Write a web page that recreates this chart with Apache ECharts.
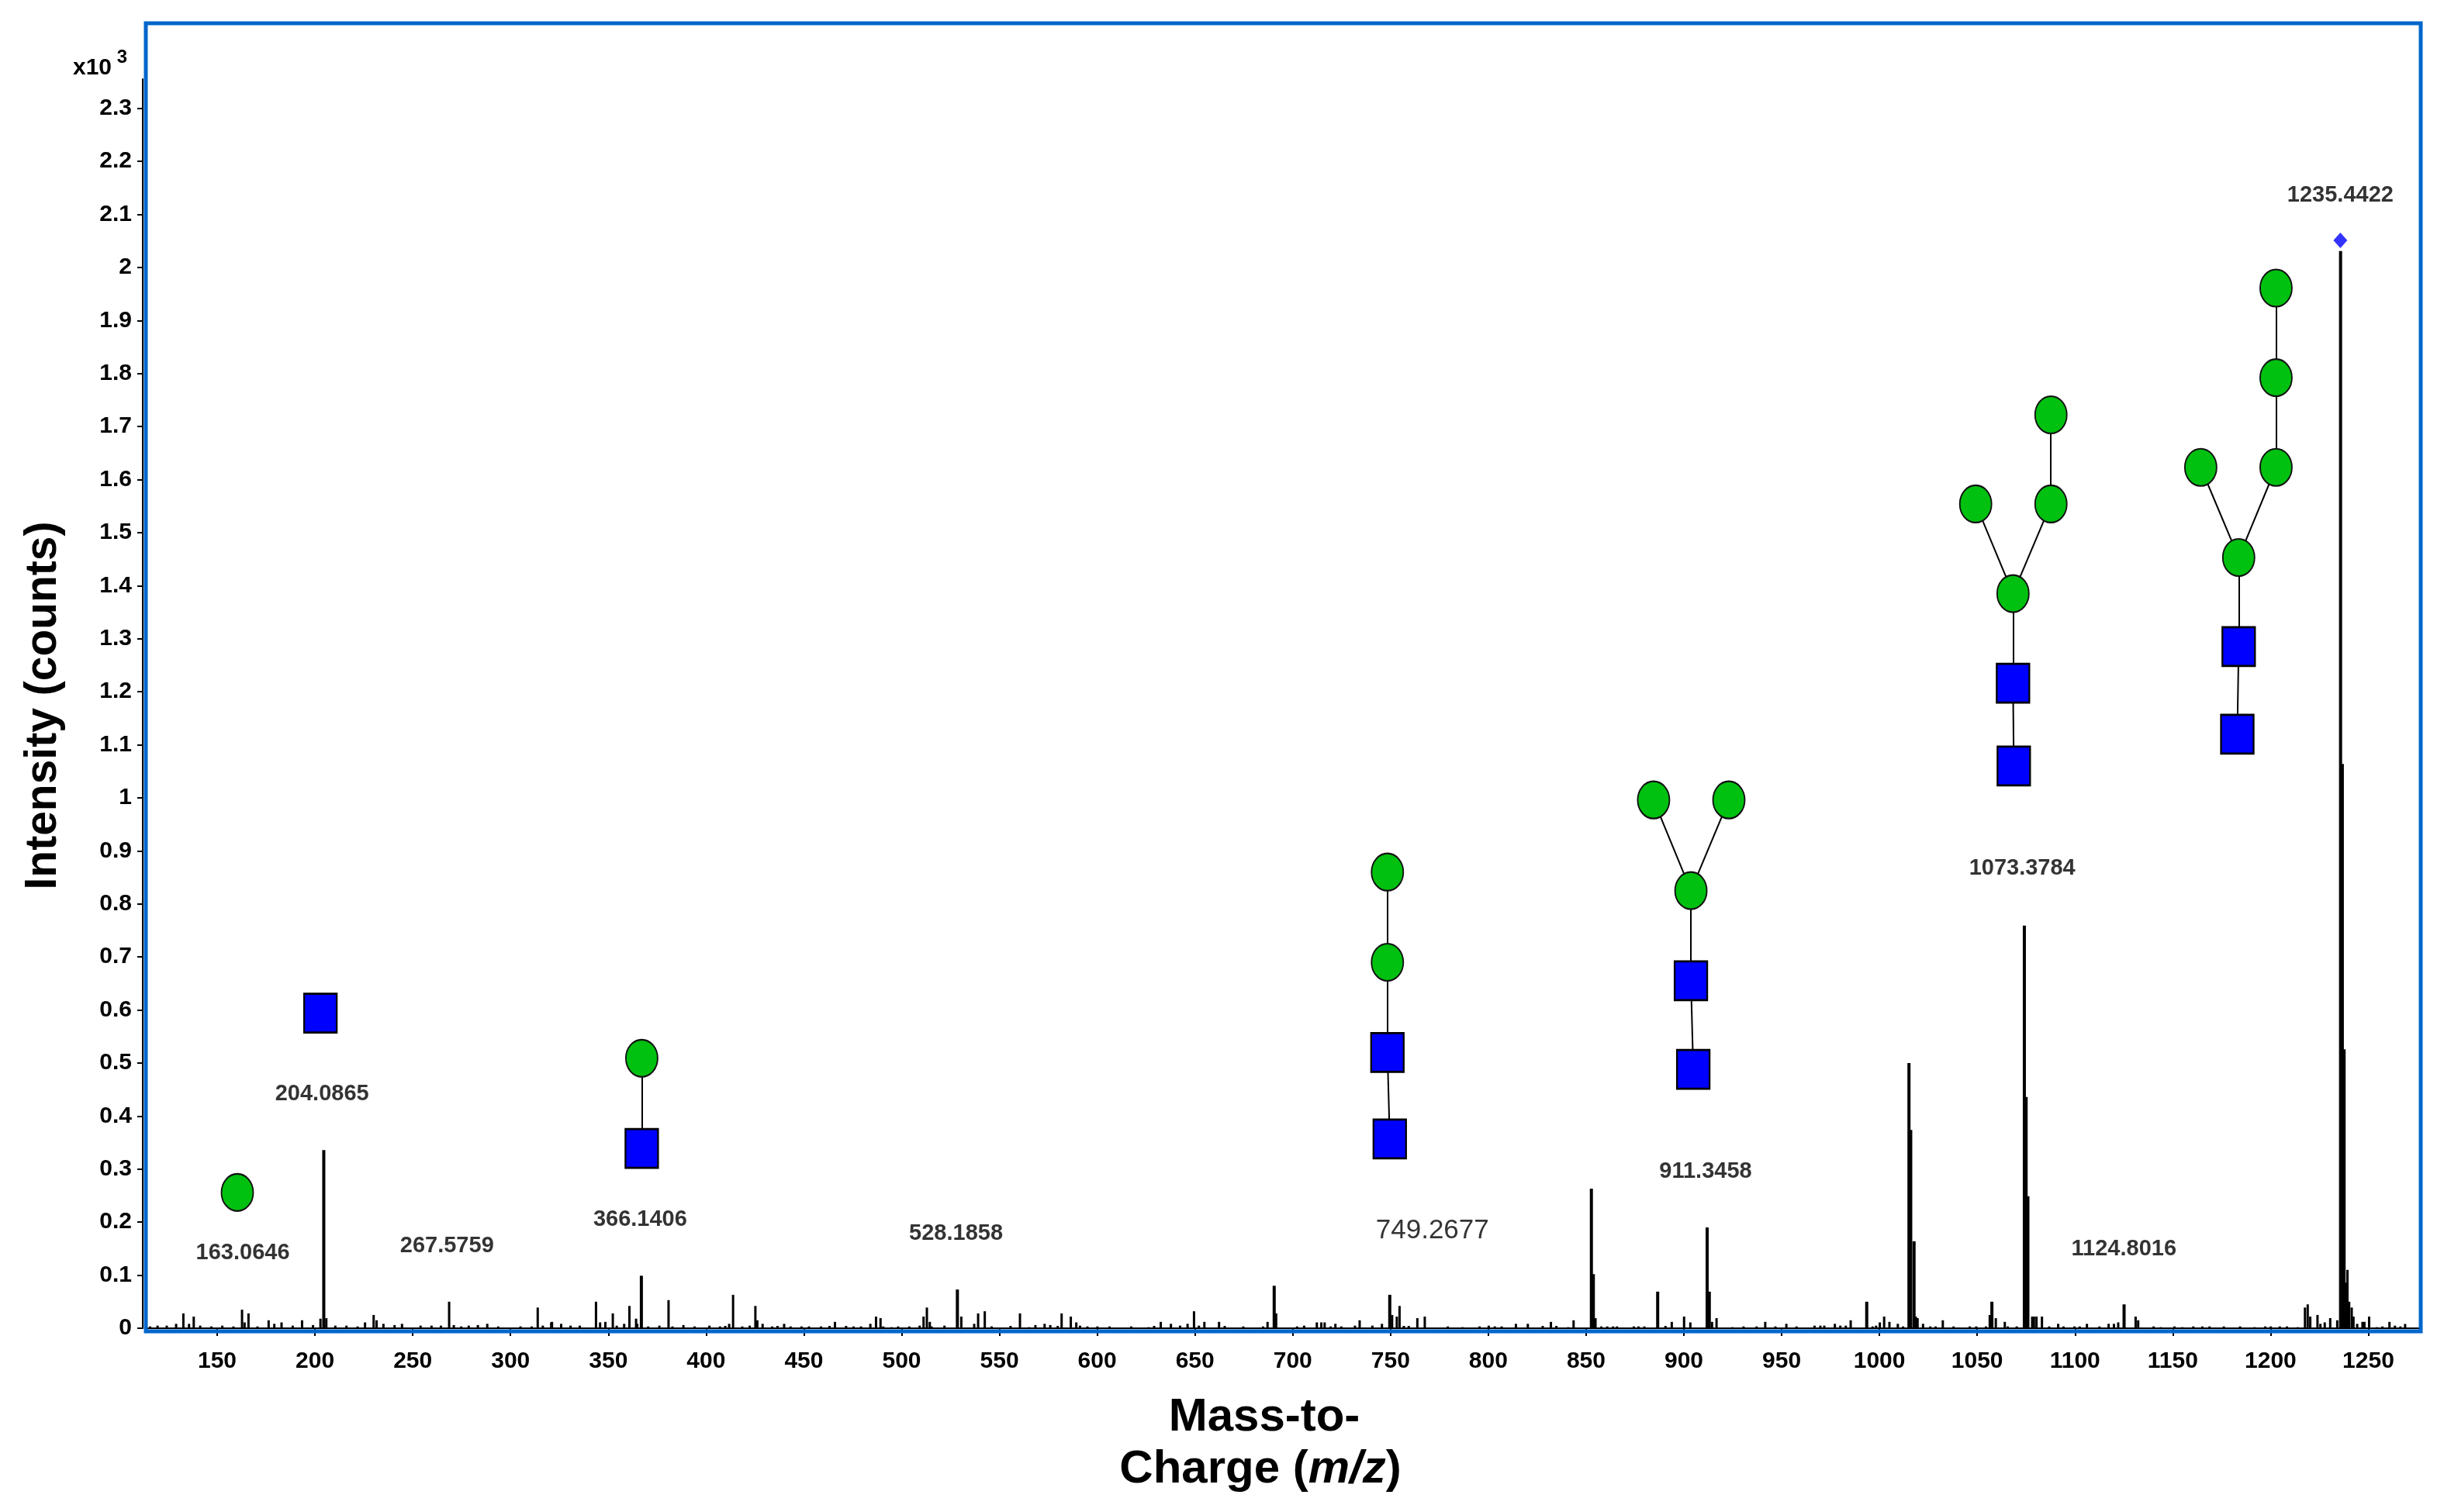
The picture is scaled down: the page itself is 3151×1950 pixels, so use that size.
<!DOCTYPE html>
<html>
<head>
<meta charset="utf-8">
<script src="https://cdn.jsdelivr.net/npm/echarts@6/dist/echarts.min.js"></script>
<style>
html, body { margin: 0; padding: 0; background: #fff; }
#main { width: 3151px; height: 1950px; }
</style>
</head>
<body>
<div id="main"></div>
<script>
// intensity in x10^3 counts, position in m/z
var xTicks = [150, 200, 250, 300, 350, 400, 450, 500, 550, 600, 650, 700, 750, 800, 850, 900, 950, 1000, 1050, 1100, 1150, 1200, 1250];
var yTicks = [0, 0.1, 0.2, 0.3, 0.4, 0.5, 0.6, 0.7, 0.8, 0.9, 1, 1.1, 1.2, 1.3, 1.4, 1.5, 1.6, 1.7, 1.8, 1.9, 2, 2.1, 2.2, 2.3];

// the tall peaks
var mainPeaks = [
    [204.5, 0.336], [366.9, 0.099], [528.5, 0.073], [690.5, 0.080], [749.6, 0.063],
    [852.7, 0.263], [853.7, 0.102], [886.6, 0.069], [911.9, 0.190], [913.0, 0.069],
    [993.5, 0.050], [1015.1, 0.500], [1016.0, 0.374], [1017.7, 0.164], [1057.5, 0.050],
    [1074.1, 0.759], [1075.0, 0.436], [1075.9, 0.249], [1125.1, 0.045],
    [1235.8, 2.031], [1236.7, 1.064], [1237.6, 0.526]
];

// small peaks
var minorPeaks = [
    [132.9, 0.028], [138.2, 0.022], [162.9, 0.035], [166.2, 0.028], [206.0, 0.019], [230.2, 0.025],
    [231.7, 0.015], [268.8, 0.050], [314.1, 0.039], [321.0, 0.011], [343.9, 0.050], [348.7, 0.012],
    [352.5, 0.028], [361.0, 0.042], [364.4, 0.018], [381.0, 0.053], [414.0, 0.063], [425.4, 0.042],
    [426.4, 0.015], [487.1, 0.022], [489.4, 0.019], [511.4, 0.022], [513.1, 0.039], [514.6, 0.012],
    [530.7, 0.022], [539.3, 0.028], [542.7, 0.032], [560.7, 0.028], [582.0, 0.028], [586.7, 0.022],
    [649.7, 0.032], [655.0, 0.012], [687.3, 0.012], [691.7, 0.028], [714.8, 0.011], [734.4, 0.015],
    [751.0, 0.025], [753.4, 0.022], [754.8, 0.042], [763.9, 0.019], [767.7, 0.022], [843.8, 0.015],
    [855.0, 0.019], [894.0, 0.012], [900.3, 0.022], [903.5, 0.011], [914.6, 0.012], [916.9, 0.019],
    [941.8, 0.012], [985.5, 0.015], [1002.6, 0.022], [1005.3, 0.012], [1018.8, 0.022], [1019.7, 0.019],
    [1032.6, 0.015], [1056.6, 0.025], [1059.7, 0.019], [1064.3, 0.012], [1078.3, 0.022], [1079.2, 0.022],
    [1080.5, 0.022], [1083.3, 0.022], [1131.2, 0.022], [1132.5, 0.015], [1217.8, 0.039], [1219.2, 0.045],
    [1220.5, 0.022], [1224.2, 0.025], [1230.7, 0.019], [1234.3, 0.015], [1238.6, 0.086], [1239.5, 0.110],
    [1240.4, 0.050], [1241.7, 0.039], [1242.6, 0.022], [1247.2, 0.012], [1250.6, 0.022]
];

// baseline noise
var noisePeaks = [
    [115.9, 0.0034], [119.7, 0.0049], [124.4, 0.0049], [129.2, 0.0083], [135.8, 0.0083], [141.5, 0.0049],
    [147.2, 0.0034], [152.8, 0.0049], [158.5, 0.0034], [164.2, 0.011], [170.8, 0.0034], [176.5, 0.015],
    [179.4, 0.0083], [183.1, 0.011], [188.8, 0.0049], [193.6, 0.015], [199.2, 0.006], [203.0, 0.018],
    [210.6, 0.0049], [216.3, 0.0049], [222.0, 0.0034], [225.8, 0.011], [235.2, 0.0083], [240.9, 0.006],
    [244.7, 0.0083], [254.2, 0.0049], [259.8, 0.0049], [264.6, 0.0049], [271.2, 0.006], [275.0, 0.0034],
    [278.8, 0.0049], [283.5, 0.006], [288.3, 0.0083], [293.9, 0.0034], [305.3, 0.0034], [311.0, 0.0034],
    [316.7, 0.0049], [321.4, 0.012], [326.1, 0.0083], [330.9, 0.0049], [335.6, 0.0049], [346.0, 0.011],
    [354.5, 0.0049], [358.3, 0.0083], [365.0, 0.0083], [370.6, 0.0034], [376.3, 0.0049], [383.0, 0.0034],
    [388.6, 0.006], [394.3, 0.0034], [401.9, 0.0049],
    [407.3, 0.0034], [410.0, 0.0044], [412.0, 0.0083], [418.7, 0.0034], [422.5, 0.0049], [429.1, 0.0083],
    [434.0, 0.0034], [436.7, 0.0044], [440.1, 0.0083], [443.4, 0.0034], [449.0, 0.0034], [452.8, 0.0034],
    [459.0, 0.0034], [463.3, 0.0044], [466.1, 0.012], [471.8, 0.0044], [475.6, 0.0034], [479.4, 0.0034],
    [484.2, 0.0083], [490.8, 0.0034], [495.0, 0.002], [498.4, 0.0034], [504.1, 0.0034], [509.4, 0.0049],
    [515.5, 0.0034], [522.1, 0.0049], [537.3, 0.0083], [546.2, 0.0034], [555.9, 0.0044], [565.4, 0.002],
    [568.6, 0.006], [573.3, 0.0083], [576.2, 0.006], [580.0, 0.0044], [589.5, 0.011], [591.4, 0.0049],
    [595.2, 0.0034], [600.3, 0.0034], [606.5, 0.0034], [617.6, 0.0034], [626.5, 0.002], [629.3, 0.0044],
    [632.7, 0.012], [637.9, 0.0083], [642.6, 0.0049], [646.4, 0.0083], [652.2, 0.0049], [662.5, 0.012],
    [665.4, 0.0044], [674.9, 0.0034], [685.0, 0.0034],
    [702.4, 0.0034], [706.0, 0.0049], [712.5, 0.011], [716.5, 0.011], [719.6, 0.0034], [722.0, 0.0083],
    [725.0, 0.0034], [732.0, 0.0049], [740.9, 0.0049], [745.8, 0.0083], [757.0, 0.0044], [759.5, 0.0044],
    [779.5, 0.0034], [787.0, 0.002], [795.7, 0.0034], [800.4, 0.0049], [803.5, 0.0034], [807.0, 0.0034],
    [814.3, 0.0083], [820.4, 0.0083], [828.0, 0.0044], [832.2, 0.012], [835.0, 0.0044], [841.0, 0.002],
    [858.0, 0.0034], [861.0, 0.0034], [864.0, 0.0034], [866.0, 0.0034], [874.6, 0.0034], [877.0, 0.0034],
    [880.0, 0.0034], [890.8, 0.0044], [925.0, 0.002], [930.7, 0.0034], [937.4, 0.0034], [947.0, 0.0034],
    [952.6, 0.0083], [957.8, 0.0034], [967.0, 0.0049], [970.0, 0.0049], [972.0, 0.0049], [977.4, 0.0083],
    [980.2, 0.0049], [983.0, 0.0049],
    [996.7, 0.0034], [998.5, 0.0049], [1000.4, 0.011], [1009.6, 0.0083], [1012.3, 0.0034], [1022.5, 0.0083],
    [1026.2, 0.0034], [1028.9, 0.0034], [1038.1, 0.0034], [1046.4, 0.0034], [1049.7, 0.0034], [1054.7, 0.0034],
    [1065.8, 0.0034], [1070.4, 0.0034], [1087.0, 0.0034], [1091.6, 0.0083], [1094.3, 0.0034], [1099.9, 0.0034],
    [1102.6, 0.0034], [1106.3, 0.0083], [1112.7, 0.0034], [1117.4, 0.0083], [1120.1, 0.0083], [1122.3, 0.011],
    [1140.4, 0.0034], [1144.1, 0.002], [1151.1, 0.0034], [1155.1, 0.002], [1160.7, 0.0034], [1165.3, 0.0034],
    [1169.0, 0.0034], [1176.3, 0.0034], [1184.6, 0.0034], [1192.0, 0.002], [1197.5, 0.0034], [1200.3, 0.0034],
    [1204.9, 0.0034], [1208.6, 0.0034], [1214.1, 0.002], [1225.7, 0.0083], [1227.9, 0.011], [1244.5, 0.0083],
    [1248.2, 0.012], [1254.6, 0.002], [1257.4, 0.0034], [1261.0, 0.012], [1263.8, 0.0049], [1266.6, 0.0034],
    [1269.0, 0.008]
];

// peak annotations: text, m/z, height of label centre
var peakLabels = [
    ['163.0646', 163.1, 0.142], ['204.0865', 203.6, 0.442], ['267.5759', 267.5, 0.155],
    ['366.1406', 366.3, 0.205], ['528.1858', 527.8, 0.178], ['911.3458', 911.1, 0.295],
    ['1073.3784', 1073.0, 0.867], ['1124.8016', 1125.0, 0.149], ['1235.4422', 1235.7, 2.135]
];
var plainLabels = [['749.2677', 771.4, 0.184]];
var precursor = [[1235.7, 2.051]];

// glycan cartoons (hexose circles, HexNAc squares, linkages)
var hexCircles = [
    [160.3, 0.256], [367.1, 0.509], [748.4, 0.860], [748.4, 0.690], [884.5, 0.996], [923.0, 0.996],
    [903.6, 0.825], [1087.7, 1.722], [1049.2, 1.554], [1087.7, 1.554], [1068.3, 1.385], [1202.8, 1.961],
    [1202.8, 1.792], [1202.8, 1.623], [1164.3, 1.623], [1183.7, 1.453]
];
var hexNAcSquares = [
    [202.8, 0.594], [367.1, 0.339], [748.4, 0.520], [749.6, 0.357], [903.6, 0.655], [904.8, 0.488],
    [1068.3, 1.216], [1068.7, 1.060], [1183.7, 1.285], [1183.0, 1.120]
];
var glycanLinks = [
    [[367.1, 0.509], [367.1, 0.339]],
    [[748.4, 0.860], [748.4, 0.690]], [[748.4, 0.690], [748.4, 0.520]], [[748.4, 0.520], [749.6, 0.357]],
    [[884.5, 0.996], [903.6, 0.825]], [[923.0, 0.996], [903.6, 0.825]], [[903.6, 0.825], [903.6, 0.655]],
    [[903.6, 0.655], [904.8, 0.488]],
    [[1087.7, 1.722], [1087.7, 1.554]], [[1049.2, 1.554], [1068.3, 1.385]], [[1087.7, 1.554], [1068.3, 1.385]],
    [[1068.3, 1.385], [1068.3, 1.216]], [[1068.3, 1.216], [1068.7, 1.060]],
    [[1202.8, 1.961], [1202.8, 1.792]], [[1202.8, 1.792], [1202.8, 1.623]], [[1164.3, 1.623], [1183.7, 1.453]],
    [[1202.8, 1.623], [1183.7, 1.453]], [[1183.7, 1.453], [1183.7, 1.285]], [[1183.7, 1.285], [1183.0, 1.120]]
];

var FONT = "'Liberation Sans', Arial, sans-serif";

var myChart = echarts.init(document.getElementById('main'));

function toLabelData(list) {
    return list.map(function (d) {
        return { name: d[0], value: [d[1], d[2]] };
    });
}

option = {
    backgroundColor: '#fff',
    animation: false,
    grid: { left: 188, right: 32, top: 102, bottom: 237, show: false },
    xAxis: {
        type: 'value',
        min: 113.5,
        max: 1276,
        offset: 10,
        axisLine: { show: true, lineStyle: { color: '#000', width: 2 } },
        axisTick: { show: true, customValues: xTicks, length: 10, lineStyle: { color: '#000', width: 2 } },
        axisLabel: {
            customValues: xTicks, margin: 18,
            formatter: function (v) { return String(v); },
            color: '#000', fontSize: 30, fontWeight: 'bold', fontFamily: FONT
        },
        splitLine: { show: false }
    },
    yAxis: {
        type: 'value',
        min: 0,
        max: 2.355,
        offset: 4,
        axisLine: { show: true, lineStyle: { color: '#000', width: 2 } },
        axisTick: { show: true, customValues: yTicks, length: 7, lineStyle: { color: '#000', width: 2 } },
        axisLabel: {
            customValues: yTicks, margin: 14,
            formatter: function (v) { return String(v); },
            color: '#000', fontSize: 30, fontWeight: 'bold', fontFamily: FONT
        },
        splitLine: { show: false }
    },
    series: [
        {
            name: 'noise', type: 'bar', data: noisePeaks, barWidth: 3,
            itemStyle: { color: '#000' }, z: 2
        },
        {
            name: 'minor', type: 'bar', data: minorPeaks, barWidth: 3, barGap: '-100%',
            itemStyle: { color: '#000' }, z: 2
        },
        {
            name: 'main', type: 'bar', data: mainPeaks, barWidth: 4, barGap: '-100%',
            itemStyle: { color: '#000' }, z: 2
        },
        {
            name: 'links', type: 'lines', coordinateSystem: 'cartesian2d', polyline: false,
            data: glycanLinks.map(function (c) { return { coords: c }; }),
            lineStyle: { color: '#000', width: 2, opacity: 1 }, z: 3
        },
        {
            name: 'Hex', type: 'scatter', data: hexCircles, symbol: 'circle', symbolSize: [41, 48],
            itemStyle: { color: '#00C010', borderColor: '#111', borderWidth: 2, opacity: 1 }, z: 4
        },
        {
            name: 'HexNAc', type: 'scatter', data: hexNAcSquares, symbol: 'rect', symbolSize: [42, 50],
            itemStyle: { color: '#0000FF', borderColor: '#000', borderWidth: 2.5, opacity: 1 }, z: 4
        },
        {
            name: 'precursor', type: 'scatter', data: precursor, symbol: 'diamond', symbolSize: [18, 20],
            itemStyle: { color: '#0000FF' }, z: 4
        },
        {
            name: 'labels', type: 'scatter', data: toLabelData(peakLabels), symbolSize: 1,
            itemStyle: { color: 'rgba(0,0,0,0)' },
            label: {
                show: true, position: 'inside', formatter: '{b}',
                color: '#000', fontSize: 29, fontWeight: 'bold', fontFamily: FONT
            }, z: 5
        },
        {
            name: 'labels2', type: 'scatter', data: toLabelData(plainLabels), symbolSize: 1,
            itemStyle: { color: 'rgba(0,0,0,0)' },
            label: {
                show: true, position: 'inside', formatter: '{b}',
                color: '#000', fontSize: 35, fontWeight: 'normal', fontFamily: FONT
            }, z: 5
        }
    ],
    graphic: [
        {   // blue plot frame
            type: 'rect', z: 100, silent: true,
            shape: { x: 188, y: 30, width: 2933, height: 1687 },
            style: { fill: null, stroke: '#0066CC', lineWidth: 5 }
        },
        {
            type: 'text', left: 94, top: 62, z: 100,
            style: {
                text: '{a|x10}  {s|3}',
                rich: {
                    a: { fontSize: 30, fontWeight: 'bold', fontFamily: FONT, fill: '#000', padding: [14, 0, 0, 0] },
                    s: { fontSize: 24, fontWeight: 'bold', fontFamily: FONT, fill: '#000', padding: [0, 0, 14, 0] }
                }
            }
        },
        {
            type: 'text', x: 56, y: 910, rotation: Math.PI / 2, z: 100,
            style: {
                text: 'Intensity (counts)', font: 'bold 57px ' + FONT, fill: '#000',
                textAlign: 'center', textVerticalAlign: 'middle'
            }
        },
        {
            type: 'text', x: 1630, y: 1828, z: 100,
            style: {
                text: 'Mass-to-', font: 'bold 60px ' + FONT, fill: '#000',
                textAlign: 'center', textVerticalAlign: 'middle'
            }
        },
        {
            type: 'text', x: 1625, y: 1895, z: 100,
            style: {
                text: '{b|Charge (}{i|m/z}{b|)}',
                textAlign: 'center', textVerticalAlign: 'middle',
                rich: {
                    b: { fontSize: 60, fontWeight: 'bold', fontFamily: FONT, fill: '#000' },
                    i: { fontSize: 60, fontWeight: 'bold', fontStyle: 'italic', fontFamily: FONT, fill: '#000' }
                }
            }
        }
    ]
};

myChart.setOption(option);
</script>
</body>
</html>
